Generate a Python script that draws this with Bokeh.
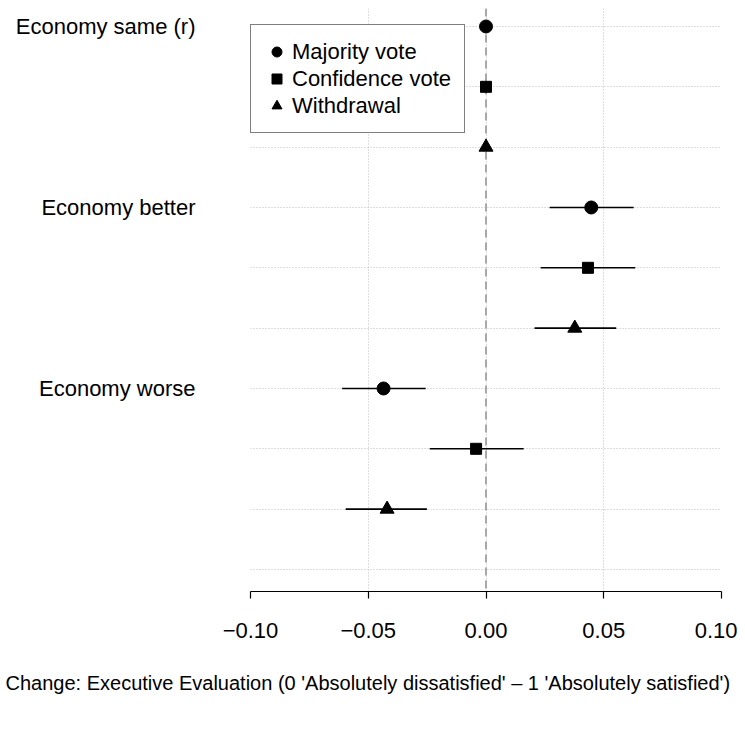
from bokeh.plotting import figure
from bokeh.models import (FixedTicker, Span, Title, Legend, LegendItem, ColumnDataSource, Range1d)
from bokeh.embed import file_html
from bokeh.resources import INLINE

# ---- data ----
groups = ["Economy same (r)", "Economy better", "Economy worse"]
models = ["Majority vote", "Confidence vote", "Withdrawal"]
markers = ["circle", "square", "triangle"]
marker_sizes = [13, 11, 14]

# estimates per model, ordered by groups
est = {
    "Majority vote":   [0.0, 0.0447, -0.0435],
    "Confidence vote": [0.0, 0.0433, -0.0042],
    "Withdrawal":      [0.0, 0.0377, -0.0420],
}
lower = {
    "Majority vote":   [0.0, 0.0270, -0.0611],
    "Confidence vote": [0.0, 0.0232, -0.0239],
    "Withdrawal":      [0.0, 0.0206, -0.0596],
}
upper = {
    "Majority vote":   [0.0, 0.0627, -0.0256],
    "Confidence vote": [0.0, 0.0634, 0.0160],
    "Withdrawal":      [0.0, 0.0553, -0.0251],
}
x_ticks = [-0.10, -0.05, 0.00, 0.05, 0.10]
x_tick_labels = ["\u22120.10", "\u22120.05", "0.00", "0.05", "0.10"]
x_title = "Change: Executive Evaluation (0 'Absolutely dissatisfied' \u2013 1 'Absolutely satisfied')"

FONT = "Liberation Sans"
n_rows = len(groups) * len(models) + 1  # one empty row at bottom

p = figure(width=737, height=722, output_backend="svg", toolbar_location=None,
           x_range=Range1d(-0.10, 0.10), y_range=Range1d(0.635, 10.298),
           frame_width=471, frame_height=583)
p.min_border_left = 250
p.min_border_right = 16
p.min_border_top = 8
p.min_border_bottom = 131
p.outline_line_color = None
p.background_fill_color = "white"
p.border_fill_color = "white"

# grids
p.xgrid.ticker = FixedTicker(ticks=x_ticks)
p.ygrid.ticker = FixedTicker(ticks=list(range(1, n_rows + 1)))
for g in (p.xgrid, p.ygrid):
    g.grid_line_color = "#bdbdbd"
    g.grid_line_dash = "1 2"
    g.grid_line_width = 1

# zero line
p.add_layout(Span(location=0, dimension="height", line_color="#a8a8a8",
                  line_dash="8 5", line_width=2, level="underlay"))

# marks
renderers = []
for mi, m in enumerate(models):
    ys = [n_rows - (gi * len(models) + mi) for gi in range(len(groups))]
    src = ColumnDataSource(dict(y=ys, x=est[m], lo=lower[m], hi=upper[m]))
    p.segment(x0="lo", x1="hi", y0="y", y1="y", source=src,
              line_color="black", line_width=1.6)
    r = p.scatter(x="x", y="y", source=src, marker=markers[mi],
                  size=marker_sizes[mi], fill_color="black", line_color="black")
    renderers.append(r)

# x axis
xa = p.xaxis[0]
xa.ticker = FixedTicker(ticks=x_ticks)
xa.major_label_overrides = {t: l for t, l in zip(x_ticks, x_tick_labels)}
xa.minor_tick_line_color = None
xa.major_tick_in = 0
xa.major_tick_out = 7
xa.axis_line_color = "black"
xa.major_tick_line_color = "black"
xa.axis_line_width = 1.2
xa.major_tick_line_width = 1.2
xa.major_label_text_font = FONT
xa.major_label_text_font_size = "22px"
xa.major_label_text_color = "black"
xa.major_label_standoff = 24

# y axis
ya = p.yaxis[0]
group_rows = [n_rows - gi * len(models) for gi in range(len(groups))]
ya.ticker = FixedTicker(ticks=group_rows)
ya.major_label_overrides = {r: g for r, g in zip(group_rows, groups)}
ya.axis_line_color = None
ya.major_tick_line_color = None
ya.minor_tick_line_color = None
ya.major_label_text_font = FONT
ya.major_label_text_font_size = "22px"
ya.major_label_text_color = "black"
ya.major_label_standoff = 49

# x title (below the axis, extending left past the frame as in the reference)
p.add_layout(Title(text=x_title, text_font=FONT, text_font_size="20px",
                   text_font_style="normal", text_color="black",
                   align="left", offset=-245, standoff=59), "below")

# legend
legend = Legend(items=[LegendItem(label=m, renderers=[r]) for m, r in zip(models, renderers)],
                location=(0, 458))
legend.border_line_color = "black"
legend.border_line_width = 1.2
legend.background_fill_alpha = 1
legend.padding = 13
legend.spacing = 0
legend.margin = 0
legend.glyph_width = 25
legend.glyph_height = 27
legend.label_height = 27
legend.label_standoff = 3
legend.label_text_font = FONT
legend.label_text_font_size = "22px"
legend.label_text_color = "black"
p.add_layout(legend)

open("out.html", "w").write(file_html(p, INLINE))
